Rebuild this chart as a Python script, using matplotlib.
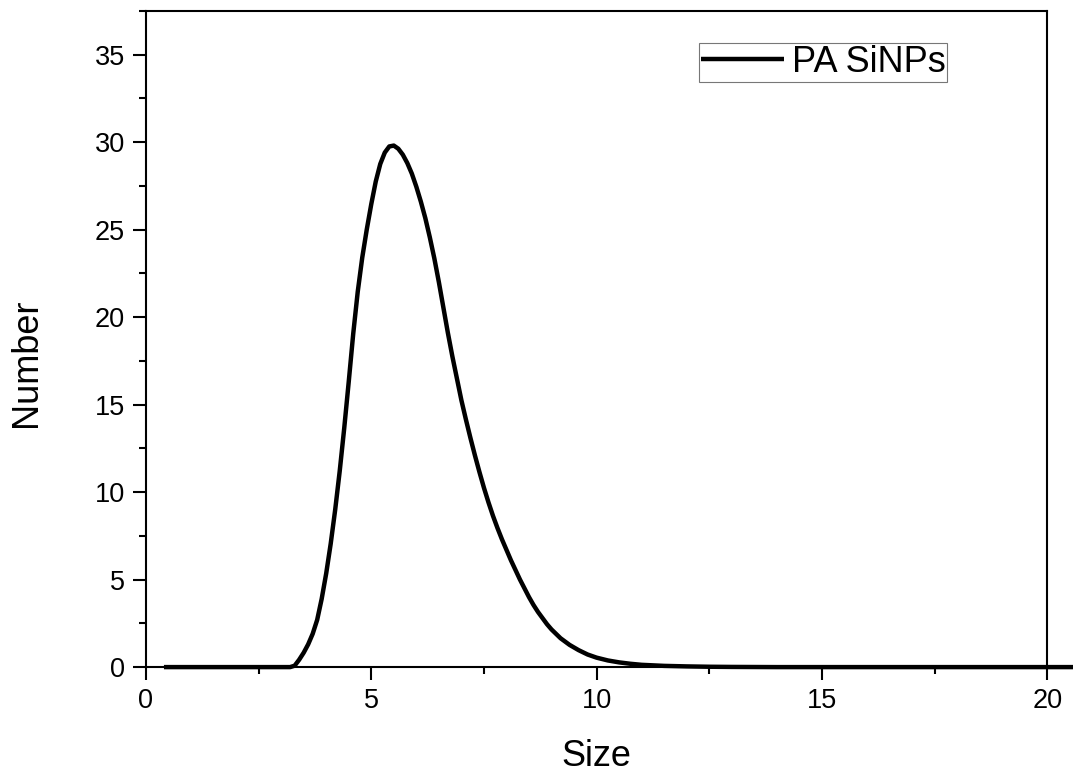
import matplotlib
matplotlib.use("Agg")
import matplotlib.pyplot as plt
from matplotlib.ticker import MultipleLocator

plt.rcParams['font.family'] = ['Liberation Sans', 'DejaVu Sans']

size = [0.4, 3.0, 3.20, 3.30, 3.40, 3.50, 3.60, 3.70, 3.80, 3.90, 4.00,
        4.10, 4.20, 4.30, 4.40, 4.50, 4.60, 4.70, 4.80, 4.90, 5.00, 5.10,
        5.20, 5.30, 5.40, 5.50, 5.60, 5.70, 5.80, 5.90, 6.00, 6.10, 6.20,
        6.30, 6.40, 6.50, 6.60, 6.70, 6.80, 6.90, 7.00, 7.10, 7.20, 7.30,
        7.40, 7.50, 7.60, 7.70, 7.80, 7.90, 8.00, 8.10, 8.20, 8.30, 8.40,
        8.50, 8.60, 8.70, 8.80, 8.90, 9.00, 9.20, 9.40, 9.60, 9.80, 10.00,
        10.25, 10.50, 10.75, 11.00, 11.50, 12.00, 12.50, 13.00, 14.00, 20.6]
number = [0.0, 0.0, 0.0, 0.08, 0.42, 0.82, 1.3, 1.9, 2.7, 3.9, 5.35,
          7.05, 9.0, 11.2, 13.65, 16.3, 19.05, 21.45, 23.4, 25.0, 26.45, 27.75,
          28.75, 29.4, 29.75, 29.8, 29.62, 29.28, 28.8, 28.2, 27.45, 26.6, 25.65,
          24.55, 23.35, 22.0, 20.55, 19.1, 17.75, 16.5, 15.25, 14.15, 13.1, 12.1,
          11.15, 10.25, 9.42, 8.65, 7.95, 7.3, 6.7, 6.1, 5.55, 5.0, 4.5,
          4.0, 3.55, 3.15, 2.8, 2.45, 2.15, 1.65, 1.27, 0.97, 0.72, 0.54,
          0.38, 0.27, 0.19, 0.13, 0.07, 0.04, 0.02, 0.01, 0.0, 0.0]
series_label = "PA SiNPs"
x_label = "Size"
y_label = "Number"

fig = plt.figure(figsize=(10.73, 7.73), dpi=100)
ax = fig.add_axes([0.136, 0.137, 0.840, 0.849])

ax.plot(size, number, color='black', lw=3.2, label=series_label, clip_on=False,
        solid_joinstyle='round', solid_capstyle='butt', zorder=5)

ax.set_xlim(0, 20)
ax.set_ylim(0, 37.5)
ax.xaxis.set_major_locator(MultipleLocator(5))
ax.xaxis.set_minor_locator(MultipleLocator(2.5))
ax.yaxis.set_major_locator(MultipleLocator(5))
ax.yaxis.set_minor_locator(MultipleLocator(2.5))

for s in ax.spines.values():
    s.set_linewidth(1.5)

ax.tick_params(which='major', direction='out', length=9.5, width=1.5,
               labelsize=19.5, pad=5.5)
ax.tick_params(which='minor', direction='out', length=5, width=1.5)

ax.set_xlabel(x_label, fontsize=26, labelpad=18)
ax.set_ylabel(y_label, fontsize=26)
ax.yaxis.set_label_coords(-0.132, 0.463)
ax.yaxis.label.set_verticalalignment('center')

leg = ax.legend(loc='upper right', bbox_to_anchor=(0.889, 0.951), fontsize=26,
                frameon=True, fancybox=False, edgecolor='#555555',
                handlelength=2.3, handletextpad=0.22, borderpad=0.05,
                borderaxespad=0.0)
leg.get_frame().set_linewidth(0.8)

fig.savefig("out.png", dpi=100)
